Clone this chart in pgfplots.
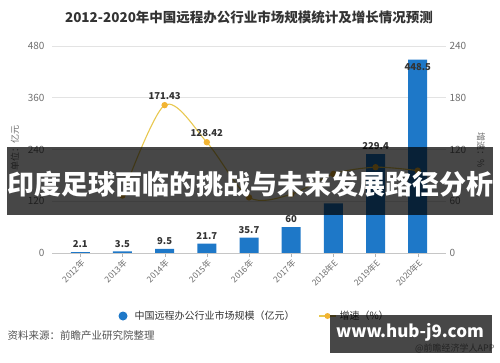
\documentclass[border=0pt]{standalone}
\usepackage{pgfplots}
\pgfplotsset{compat=1.18}
\usepackage{fontspec}
\setmainfont{Noto Sans CJK SC}
\definecolor{barblue}{RGB}{30,120,200}
\definecolor{linecol}{RGB}{232,200,80}
\definecolor{markcol}{RGB}{242,180,50}
\definecolor{txtdark}{RGB}{51,51,51}
\definecolor{ticktxt}{RGB}{110,110,110}
\pgfplotstableread{
x y
0 2.1
1 3.5
2 9.5
3 21.7
4 35.7
5 60
6 115
7 229.4
8 448.5
}\bars
\pgfplotstableread{
x g
1 66.67
2 171.43
3 128.42
4 64.50
5 68.07
6 91.67
7 99.48
8 95.51
}\growth
\tikzset{blab/.style={anchor=south, font=\bfseries\fontsize{9.5}{9.5}\selectfont, text=txtdark, inner sep=1pt, yshift=3pt}}
\begin{document}
\begin{tikzpicture}[x=1pt,y=1pt]
\useasboundingbox (0,0) rectangle (500,362);
\begin{axis}[
  at={(52pt,109pt)}, anchor=south west, scale only axis,
  width=394pt, height=207pt,
  xmin=-0.67, xmax=8.67, ymin=0, ymax=480,
  ytick={0,120,240,360,480},
  xtick={0,...,8},
  xticklabels={2012年,2013年,2014年,2015年,2016年,2017年,2018年E,2019年E,2020年E},
  axis line style={draw=none},
  ymajorgrids, grid style={gray!22, line width=0.6pt},
  xtick pos=bottom, tick align=outside, major tick length=4pt,
  xtick style={gray!60}, ytick style={draw=none},
  x tick label style={rotate=45, anchor=north east, font=\fontsize{8.5}{8.5}\selectfont, text=ticktxt, inner sep=1pt},
  y tick label style={font=\fontsize{10}{10}\selectfont, text=ticktxt},
  /pgf/number format/assume math mode=true,
  clip=false,
]
\addplot[ybar, bar width=19pt, fill=barblue, draw=none] table[x=x,y=y] {\bars};
\draw[gray!45, line width=0.8pt] (axis cs:-0.67,0) -- (axis cs:8.67,0);
\node[blab] at (axis cs:0,2.1) {2.1};
\node[blab] at (axis cs:1,3.5) {3.5};
\node[blab] at (axis cs:2,9.5) {9.5};
\node[blab] at (axis cs:3,21.7) {21.7};
\node[blab] at (axis cs:4,35.7) {35.7};
\node[blab] at (axis cs:5,60) {60};
\node[blab] at (axis cs:7,229.4) {229.4};
\node[anchor=north, font=\bfseries\fontsize{9.5}{9.5}\selectfont, text=txtdark, inner sep=1pt, yshift=-3pt] at (axis cs:8,448.5) {448.5};
\end{axis}
\begin{axis}[
  at={(52pt,109pt)}, anchor=south west, scale only axis,
  width=394pt, height=207pt,
  xmin=-0.67, xmax=8.67, ymin=0, ymax=240,
  ytick={0,60,120,180,240},
  axis line style={draw=none},
  axis y line*=right, axis x line=none,
  ytick style={draw=none},
  y tick label style={font=\fontsize{10}{10}\selectfont, text=ticktxt},
  /pgf/number format/assume math mode=true,
  clip=false,
]
\addplot[smooth, color=linecol, line width=1.1pt, mark=*, mark size=2.6pt, mark options={fill=markcol, draw=markcol}] table[x=x,y=g] {\growth};
\node[blab, yshift=1pt] at (axis cs:2,171.43) {171.43};
\node[blab, yshift=1pt] at (axis cs:3,128.42) {128.42};
\end{axis}
% title
\node[font=\bfseries\fontsize{13.5}{13.5}\selectfont, text=txtdark] at (249,345) {2012-2020年中国远程办公行业市场规模统计及增长情况预测};
% axis names
\node[rotate=90, font=\fontsize{9}{9}\selectfont, text=ticktxt] at (15,214) {单位：亿元};
\node[rotate=-90, font=\fontsize{9}{9}\selectfont, text=ticktxt] at (481,212) {增速：\%};
% legend
\fill[barblue] (123,46) circle (4.5);
\node[anchor=west, font=\fontsize{10}{10}\selectfont, text=txtdark] at (131,46) {中国远程办公行业市场规模（亿元）};
\draw[linecol, line width=1.3pt] (319,46) -- (336,46);
\fill[markcol] (327.5,46) circle (3);
\node[anchor=west, font=\fontsize{10}{10}\selectfont, text=txtdark] at (336,46) {增速（\%）};
% source
\node[anchor=west, font=\fontsize{10.5}{10.5}\selectfont, text=txtdark!85] at (4,26) {资料来源：前瞻产业研究院整理};
\node[anchor=east, font=\fontsize{9}{9}\selectfont, text=gray] at (498,14) {@前瞻经济学人APP};
% overlays
\fill[black, opacity=0.72] (7,147) rectangle (493,215);
\node[font=\bfseries\fontsize{27}{27}\selectfont, text=white] at (250,178) {印度足球面临的挑战与未来发展路径分析};
\fill[black, opacity=0.72] (330,9) rectangle (492,47);
\node[font=\bfseries\fontsize{17}{17}\selectfont, text=white] at (410,30) {www.hub-j9.com};
\end{tikzpicture}
\end{document}
